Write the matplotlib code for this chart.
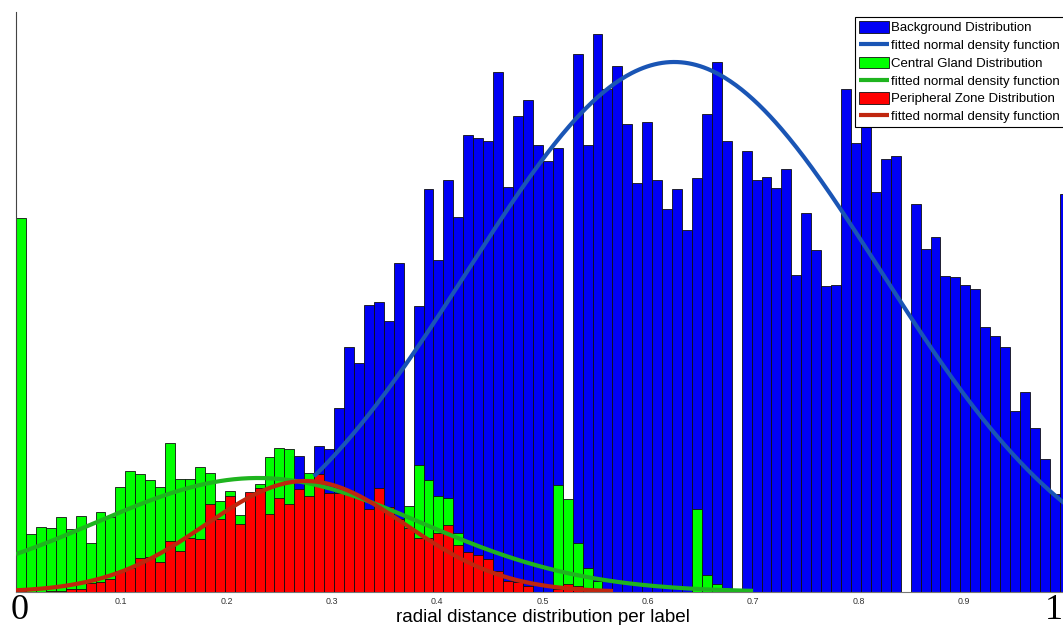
import numpy as np
import matplotlib
matplotlib.use('Agg')
import matplotlib.pyplot as plt

plt.rcParams['font.family'] = ['Liberation Sans', 'DejaVu Sans']

# histogram frequencies per bin (arbitrary units), equal-width bins starting at 0
background = [0, 0, 0, 0, 0, 0, 0, 0, 0, 0, 0, 0, 0, 0,
              0, 0, 0, 0, 0, 0, 0, 0, 0, 0, 0, 0, 0, 0,
              136, 110, 146, 143, 184, 245, 229, 287, 290, 271,
              329, 0, 286, 403, 332, 412, 375, 457, 454, 451,
              520, 405, 476, 492, 447, 431, 444, 0, 538, 447,
              558, 503, 526, 468, 409, 470, 412, 383, 403, 362,
              414, 478, 530, 451, 0, 441, 412, 415, 404, 423,
              317, 379, 342, 306, 307, 503, 449, 500, 400, 433,
              436, 0, 388, 343, 355, 316, 315, 307, 303, 265,
              256, 245, 181, 200, 164, 133, 98, 398]

central_gland = [374, 57.7, 65.3, 63.7, 74.7, 63, 75.7, 49.3, 80.3, 74.7,
                 104.7, 121.3, 117.7, 112, 104.7, 148.7, 112.7, 112.7, 124.7, 118.7,
                 91.3, 101.3, 77, 95, 107.7, 135.3, 143.7, 142.7, 100, 118.7,
                 110, 95, 92, 90, 88, 80, 95, 80, 70, 86.4,
                 127.5, 112, 96, 93.7, 59.3, 35, 28, 22, 14, 9,
                 5, 3, 0, 0, 107, 92.7, 49.3, 24.3, 11, 0,
                 0, 0, 0, 0, 0, 0, 0, 0, 83, 17.5,
                 8, 2.5]

peripheral_zone = [1, 0, 0.5, 1, 1.3, 2.7, 2.7, 8.7, 10.3, 12.7,
                   21.3, 24.3, 33.7, 35.3, 29.7, 51, 41, 53.7, 52.7, 87.7,
                   72.7, 96.3, 67.7, 99.7, 103.7, 77.7, 94.3, 87.7, 103, 96.3,
                   117.7, 99, 98.7, 99.3, 95.3, 82.7, 103.7, 85.3, 72.7, 63.7,
                   53.7, 53.7, 59.3, 67, 47, 40.3, 37.5, 33.5, 21, 11,
                   10, 6, 0.5, 0, 2.6, 8.3, 6.5, 4, 2]

bin_width = 0.00944

# fitted normal curves: mean, std, peak height, and the x span each is drawn over
bg_fit = (0.625, 0.196, 530)
cg_fit = (0.23, 0.155, 114)
pz_fit = (0.275, 0.095, 111)
bg_span = (0.283, 1.0)
cg_span = (0.0, 0.70)
pz_span = (0.0, 0.567)

tick_values = [0.1, 0.2, 0.3, 0.4, 0.5, 0.6, 0.7, 0.8, 0.9]
tick_labels = ['0.1', '0.2', '0.3', '0.4', '0.5', '0.6', '0.7', '0.8', '0.9']


def normal_curve(fit, span):
    mu, sd, peak = fit
    xs = np.linspace(span[0], span[1], 400)
    return xs, peak * np.exp(-(xs - mu) ** 2 / (2 * sd ** 2))


def edges(values):
    return np.arange(len(values)) * bin_width


W, H = 1063, 625
fig = plt.figure(figsize=(W / 100, H / 100), dpi=100)
ax = fig.add_axes([16 / W, 33 / H, 1053 / W, 580 / H])

bar_kw = dict(width=bin_width, align='edge', edgecolor='#111111', linewidth=0.6)
b1 = ax.bar(edges(background), background, color='#0000f5', zorder=1, **bar_kw)
b2 = ax.bar(edges(central_gland), central_gland, color='#00ff00', zorder=2, **bar_kw)
b3 = ax.bar(edges(peripheral_zone), peripheral_zone, color='#ff0000', zorder=3, **bar_kw)

line_kw = dict(linewidth=3.0, solid_capstyle='butt')
x, y = normal_curve(bg_fit, bg_span)
l1, = ax.plot(x, y, color='#1a55b5', zorder=4, **line_kw)
x, y = normal_curve(cg_fit, cg_span)
l2, = ax.plot(x, y, color='#1fb41f', zorder=5, **line_kw)
x, y = normal_curve(pz_fit, pz_span)
l3, = ax.plot(x, y, color='#c0260e', zorder=6, **line_kw)

ax.set_xlim(0, 1)
ax.set_ylim(0, 580)
ax.set_xticks(tick_values)
ax.set_xticklabels(tick_labels)
ax.set_yticks([])
ax.tick_params(axis='x', length=0, pad=3.5, labelsize=6.4, labelcolor='#333333')
for side in ['top', 'right']:
    ax.spines[side].set_visible(False)
ax.spines['left'].set_color('#444444')
ax.spines['left'].set_linewidth(0.8)
ax.spines['bottom'].set_color('#777777')
ax.spines['bottom'].set_linewidth(0.8)

handles = [b1, l1, b2, l2, b3, l3]
labels = ['Background Distribution', 'fitted normal density function',
          'Central Gland Distribution', 'fitted normal density function',
          'Peripheral Zone Distribution', 'fitted normal density function']
leg = ax.legend(handles, labels, loc='upper left',
                bbox_to_anchor=(855 / W, 1 - 17 / H), bbox_transform=fig.transFigure,
                fontsize=9.5, fancybox=False, framealpha=1, edgecolor='black',
                borderpad=0.3, labelspacing=0.33, handlelength=2.3,
                handleheight=1.0, handletextpad=0.15, borderaxespad=0)
leg.get_frame().set_linewidth(0.8)

fig.text(20 / W, 6 / H, '0', fontfamily='Liberation Serif', fontsize=26,
         ha='center', va='baseline')
fig.text(1054 / W, 6 / H, '1', fontfamily='Liberation Serif', fontsize=26,
         ha='center', va='baseline')
fig.text((16 + 1053 / 2) / W, 3 / H, 'radial distance distribution per label',
         fontsize=13.6, ha='center', va='baseline')

fig.savefig('out.png', dpi=100)
